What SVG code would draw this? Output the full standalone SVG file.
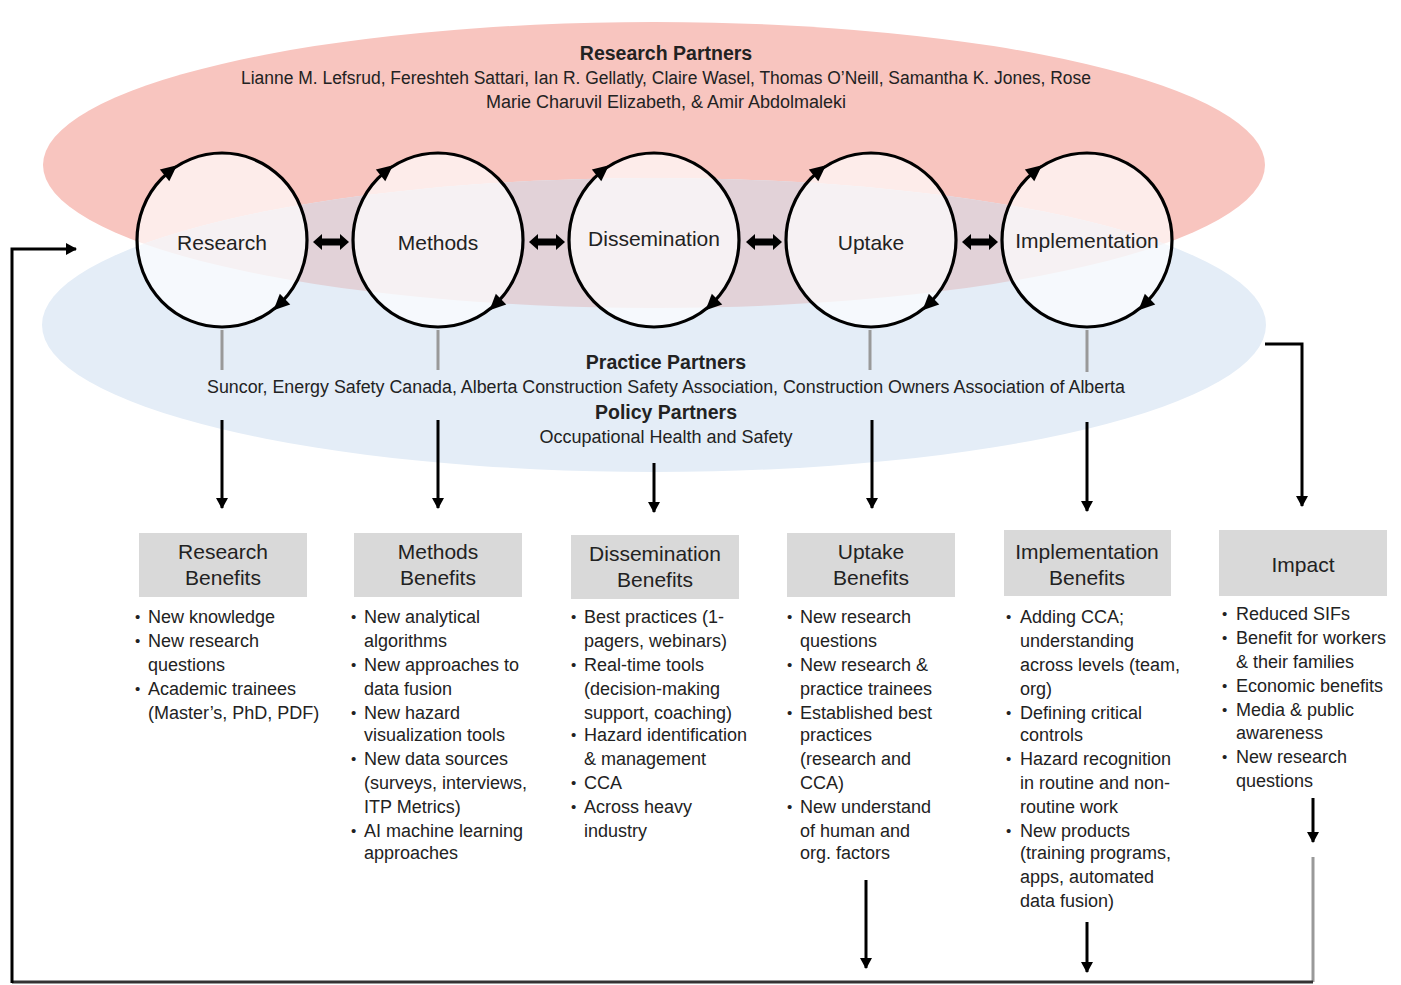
<svg xmlns="http://www.w3.org/2000/svg" xmlns:xlink="http://www.w3.org/1999/xlink" width="1401" height="985" viewBox="0 0 1401 985">
  <style>
    text { font-family: "Liberation Sans", Arial, sans-serif; fill: #222; }
    .title { font-size: 19.5px; font-weight: bold; text-anchor: middle; }
    .sub { font-size: 18px; text-anchor: middle; }
    .lbl { font-size: 21px; text-anchor: middle; }
    .hdr { font-size: 21px; text-anchor: middle; }
    .li { font-size: 18px; }
    .bul { font-size: 15px; }
    .ring { fill: #ffffff; fill-opacity: 0.68; stroke: #000; stroke-width: 3.2; }
    .hbox { fill: #d9d9d9; }
    .arr { fill: none; stroke: #000; stroke-width: 3; }
    .stub { fill: none; stroke: #999; stroke-width: 3; }
  </style>
  <defs>
    <marker id="tip" markerUnits="userSpaceOnUse" markerWidth="14" markerHeight="14" refX="10" refY="7" orient="auto">
      <path d="M0,1 L11,7 L0,13 Z" fill="#000"/>
    </marker>
    <path id="ah" d="M9,0 L-7,-7.5 L-7,7.5 Z" fill="#000"/>
    <path id="dbl" d="M-18,0 L-9,-8 L-9,-3.5 L9,-3.5 L9,-8 L18,0 L9,8 L9,3.5 L-9,3.5 L-9,8 Z" fill="#000"/>
    <ellipse id="blueShape" cx="654" cy="325" rx="612" ry="147"/>
    <clipPath id="blueClip"><use xlink:href="#blueShape"/></clipPath>
  </defs>

  <rect width="1401" height="985" fill="#fff"/>

  <!-- partner ellipses -->
  <g id="partners-bg">
    <ellipse cx="654" cy="165" rx="611" ry="143" fill="#f8c5bf"/>
    <use xlink:href="#blueShape" fill="#e4edf7"/>
    <ellipse cx="654" cy="165" rx="611" ry="143" fill="#e2d2d8" clip-path="url(#blueClip)"/>
  </g>

  <g id="research-partners">
    <text class="title" x="666" y="60">Research Partners</text>
    <text class="sub" x="666" y="84" textLength="850" lengthAdjust="spacingAndGlyphs">Lianne M. Lefsrud, Fereshteh Sattari, Ian R. Gellatly, Claire Wasel, Thomas O’Neill, Samantha K. Jones, Rose</text>
    <text class="sub" x="666" y="108">Marie Charuvil Elizabeth, &amp; Amir Abdolmaleki</text>
  </g>

  <g id="practice-policy-partners">
    <text class="title" x="666" y="369">Practice Partners</text>
    <text class="sub" x="666" y="393" textLength="918" lengthAdjust="spacingAndGlyphs">Suncor, Energy Safety Canada, Alberta Construction Safety Association, Construction Owners Association of Alberta</text>
    <text class="title" x="666" y="419">Policy Partners</text>
    <text class="sub" x="666" y="443">Occupational Health and Safety</text>
  </g>

  <!-- connectors -->
  <g id="connectors">
    <use xlink:href="#dbl" transform="translate(331,242)"/>
    <use xlink:href="#dbl" transform="translate(547,242)"/>
    <use xlink:href="#dbl" transform="translate(764,242)"/>
    <use xlink:href="#dbl" transform="translate(980,242)"/>

    <path class="stub" d="M222,330 V370 M438,330 V370 M870,330 V370 M1087,330 V372"/>

    <path class="arr" d="M222,420 V508" marker-end="url(#tip)"/>
    <path class="arr" d="M438,420 V508" marker-end="url(#tip)"/>
    <path class="arr" d="M654,463 V512" marker-end="url(#tip)"/>
    <path class="arr" d="M872,420 V508" marker-end="url(#tip)"/>
    <path class="arr" d="M1087,422 V511" marker-end="url(#tip)"/>
    <path class="arr" d="M1265,344 H1302 V506" marker-end="url(#tip)"/>

    <path class="arr" d="M866,880 V968" marker-end="url(#tip)"/>
    <path class="arr" d="M1087,922 V972" marker-end="url(#tip)"/>
    <path class="arr" d="M1313,798 V842" marker-end="url(#tip)"/>

    <path fill="none" stroke="#999" stroke-width="3" d="M1313,857 V982"/>
    <path fill="none" stroke="#333" stroke-width="3" d="M1313,982 H12"/>
    <path class="arr" d="M12,983 V249 H76" marker-end="url(#tip)"/>
  </g>

  <!-- cycle nodes -->
  <g id="node-research" transform="translate(222,240)">
    <ellipse class="ring" rx="85" ry="87"/>
    <use xlink:href="#ah" transform="translate(-52,-69) rotate(-39)"/>
    <use xlink:href="#ah" transform="translate(58,64) rotate(136)"/>
    <text class="lbl" x="0" y="10">Research</text>
  </g>
  <g id="node-methods" transform="translate(438,240)">
    <ellipse class="ring" rx="85" ry="87"/>
    <use xlink:href="#ah" transform="translate(-52,-69) rotate(-39)"/>
    <use xlink:href="#ah" transform="translate(58,64) rotate(136)"/>
    <text class="lbl" x="0" y="10">Methods</text>
  </g>
  <g id="node-dissemination" transform="translate(654,240)">
    <ellipse class="ring" rx="85" ry="87"/>
    <use xlink:href="#ah" transform="translate(-52,-69) rotate(-39)"/>
    <use xlink:href="#ah" transform="translate(58,64) rotate(136)"/>
    <text class="lbl" x="0" y="6">Dissemination</text>
  </g>
  <g id="node-uptake" transform="translate(871,240)">
    <ellipse class="ring" rx="85" ry="87"/>
    <use xlink:href="#ah" transform="translate(-52,-69) rotate(-39)"/>
    <use xlink:href="#ah" transform="translate(58,64) rotate(136)"/>
    <text class="lbl" x="0" y="10">Uptake</text>
  </g>
  <g id="node-implementation" transform="translate(1087,240)">
    <ellipse class="ring" rx="85" ry="87"/>
    <use xlink:href="#ah" transform="translate(-52,-69) rotate(-39)"/>
    <use xlink:href="#ah" transform="translate(58,64) rotate(136)"/>
    <text class="lbl" x="0" y="8">Implementation</text>
  </g>

  <!-- benefit columns -->
  <g id="research-benefits">
    <rect class="hbox" x="139" y="533" width="168" height="64"/>
    <text class="hdr" x="223" y="559">Research</text>
    <text class="hdr" x="223" y="585">Benefits</text>
    <text class="bul" x="135" y="622">•</text>
    <text class="li" x="148" y="623">New knowledge</text>
    <text class="bul" x="135" y="646">•</text>
    <text class="li" x="148" y="647">New research</text>
    <text class="li" x="148" y="671">questions</text>
    <text class="bul" x="135" y="694">•</text>
    <text class="li" x="148" y="695">Academic trainees</text>
    <text class="li" x="148" y="719">(Master’s, PhD, PDF)</text>
  </g>

  <g id="methods-benefits">
    <rect class="hbox" x="354" y="533" width="168" height="64"/>
    <text class="hdr" x="438" y="559">Methods</text>
    <text class="hdr" x="438" y="585">Benefits</text>
    <text class="bul" x="351" y="622">•</text>
    <text class="li" x="364" y="623">New analytical</text>
    <text class="li" x="364" y="647">algorithms</text>
    <text class="bul" x="351" y="670">•</text>
    <text class="li" x="364" y="671">New approaches to</text>
    <text class="li" x="364" y="695">data fusion</text>
    <text class="bul" x="351" y="718">•</text>
    <text class="li" x="364" y="719">New hazard</text>
    <text class="li" x="364" y="741">visualization tools</text>
    <text class="bul" x="351" y="764">•</text>
    <text class="li" x="364" y="765">New data sources</text>
    <text class="li" x="364" y="789">(surveys, interviews,</text>
    <text class="li" x="364" y="813">ITP Metrics)</text>
    <text class="bul" x="351" y="836">•</text>
    <text class="li" x="364" y="837">AI machine learning</text>
    <text class="li" x="364" y="859">approaches</text>
  </g>

  <g id="dissemination-benefits">
    <rect class="hbox" x="571" y="535" width="168" height="64"/>
    <text class="hdr" x="655" y="561">Dissemination</text>
    <text class="hdr" x="655" y="587">Benefits</text>
    <text class="bul" x="571" y="622">•</text>
    <text class="li" x="584" y="623">Best practices (1-</text>
    <text class="li" x="584" y="647">pagers, webinars)</text>
    <text class="bul" x="571" y="670">•</text>
    <text class="li" x="584" y="671">Real-time tools</text>
    <text class="li" x="584" y="695">(decision-making</text>
    <text class="li" x="584" y="719">support, coaching)</text>
    <text class="bul" x="571" y="740">•</text>
    <text class="li" x="584" y="741">Hazard identification</text>
    <text class="li" x="584" y="765">&amp; management</text>
    <text class="bul" x="571" y="788">•</text>
    <text class="li" x="584" y="789">CCA</text>
    <text class="bul" x="571" y="812">•</text>
    <text class="li" x="584" y="813">Across heavy</text>
    <text class="li" x="584" y="837">industry</text>
  </g>

  <g id="uptake-benefits">
    <rect class="hbox" x="787" y="533" width="168" height="64"/>
    <text class="hdr" x="871" y="559">Uptake</text>
    <text class="hdr" x="871" y="585">Benefits</text>
    <text class="bul" x="787" y="622">•</text>
    <text class="li" x="800" y="623">New research</text>
    <text class="li" x="800" y="647">questions</text>
    <text class="bul" x="787" y="670">•</text>
    <text class="li" x="800" y="671">New research &amp;</text>
    <text class="li" x="800" y="695">practice trainees</text>
    <text class="bul" x="787" y="718">•</text>
    <text class="li" x="800" y="719">Established best</text>
    <text class="li" x="800" y="741">practices</text>
    <text class="li" x="800" y="765">(research and</text>
    <text class="li" x="800" y="789">CCA)</text>
    <text class="bul" x="787" y="812">•</text>
    <text class="li" x="800" y="813">New understand</text>
    <text class="li" x="800" y="837">of human and</text>
    <text class="li" x="800" y="859">org. factors</text>
  </g>

  <g id="implementation-benefits">
    <rect class="hbox" x="1004" y="530" width="167" height="66"/>
    <text class="hdr" x="1087" y="559">Implementation</text>
    <text class="hdr" x="1087" y="585">Benefits</text>
    <text class="bul" x="1006" y="622">•</text>
    <text class="li" x="1020" y="623">Adding CCA;</text>
    <text class="li" x="1020" y="647">understanding</text>
    <text class="li" x="1020" y="671">across levels (team,</text>
    <text class="li" x="1020" y="695">org)</text>
    <text class="bul" x="1006" y="718">•</text>
    <text class="li" x="1020" y="719">Defining critical</text>
    <text class="li" x="1020" y="741">controls</text>
    <text class="bul" x="1006" y="764">•</text>
    <text class="li" x="1020" y="765">Hazard recognition</text>
    <text class="li" x="1020" y="789">in routine and non-</text>
    <text class="li" x="1020" y="813">routine work</text>
    <text class="bul" x="1006" y="836">•</text>
    <text class="li" x="1020" y="837">New products</text>
    <text class="li" x="1020" y="859">(training programs,</text>
    <text class="li" x="1020" y="883">apps, automated</text>
    <text class="li" x="1020" y="907">data fusion)</text>
  </g>

  <g id="impact">
    <rect class="hbox" x="1219" y="530" width="168" height="66"/>
    <text class="hdr" x="1303" y="572">Impact</text>
    <text class="bul" x="1222" y="619">•</text>
    <text class="li" x="1236" y="620">Reduced SIFs</text>
    <text class="bul" x="1222" y="643">•</text>
    <text class="li" x="1236" y="644">Benefit for workers</text>
    <text class="li" x="1236" y="668">&amp; their families</text>
    <text class="bul" x="1222" y="691">•</text>
    <text class="li" x="1236" y="692">Economic benefits</text>
    <text class="bul" x="1222" y="715">•</text>
    <text class="li" x="1236" y="716">Media &amp; public</text>
    <text class="li" x="1236" y="739">awareness</text>
    <text class="bul" x="1222" y="762">•</text>
    <text class="li" x="1236" y="763">New research</text>
    <text class="li" x="1236" y="787">questions</text>
  </g>
</svg>
